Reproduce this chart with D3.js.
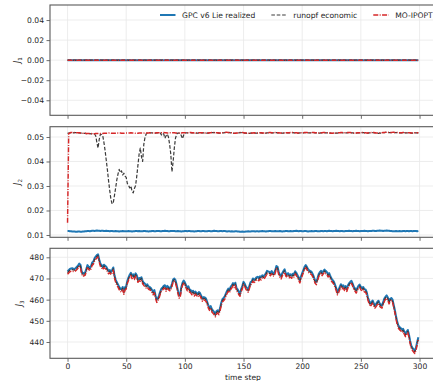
<!DOCTYPE html>
<html>
<head>
<meta charset="utf-8">
<script src="https://cdn.jsdelivr.net/npm/d3@7"></script>
<style>
  html, body { margin: 0; padding: 0; background: #fff; }
  svg { display: block; font-family: "DejaVu Sans", sans-serif; }
</style>
</head>
<body>
<svg id="chart" width="433" height="381"></svg>
<script>
// ---- data -------------------------------------------------------------
const timeSteps = d3.range(300);

const seriesNames = ["GPC v6 Lie realized", "runopf economic", "MO-IPOPT"];

// J1 is identically zero for all three methods
const j1Zero = [
0,0,0,0,0,0,0,0,0,0, 0,0,0,0,0,0,0,0,0,0, 0,0,0,0,0,0,0,0,0,0,
0,0,0,0,0,0,0,0,0,0, 0,0,0,0,0,0,0,0,0,0, 0,0,0,0,0,0,0,0,0,0,
0,0,0,0,0,0,0,0,0,0, 0,0,0,0,0,0,0,0,0,0, 0,0,0,0,0,0,0,0,0,0,
0,0,0,0,0,0,0,0,0,0, 0,0,0,0,0,0,0,0,0,0, 0,0,0,0,0,0,0,0,0,0,
0,0,0,0,0,0,0,0,0,0, 0,0,0,0,0,0,0,0,0,0, 0,0,0,0,0,0,0,0,0,0,
0,0,0,0,0,0,0,0,0,0, 0,0,0,0,0,0,0,0,0,0, 0,0,0,0,0,0,0,0,0,0,
0,0,0,0,0,0,0,0,0,0, 0,0,0,0,0,0,0,0,0,0, 0,0,0,0,0,0,0,0,0,0,
0,0,0,0,0,0,0,0,0,0, 0,0,0,0,0,0,0,0,0,0, 0,0,0,0,0,0,0,0,0,0,
0,0,0,0,0,0,0,0,0,0, 0,0,0,0,0,0,0,0,0,0, 0,0,0,0,0,0,0,0,0,0,
0,0,0,0,0,0,0,0,0,0, 0,0,0,0,0,0,0,0,0,0, 0,0,0,0,0,0,0,0,0,0
];

const j2Gpc = [
0.0116,0.0116,0.0115,0.0115,0.0114,0.0114,0.0114,0.0113,0.0113,0.0114,
0.0114,0.0113,0.0113,0.0114,0.0114,0.0115,0.0115,0.0116,0.0116,0.0115,
0.0116,0.0117,0.0117,0.0116,0.0117,0.0118,0.0117,0.0117,0.0116,0.0117,
0.0117,0.0116,0.0116,0.0117,0.0116,0.0116,0.0115,0.0116,0.0116,0.0115,
0.0115,0.0116,0.0115,0.0115,0.0114,0.0115,0.0115,0.0116,0.0115,0.0115,
0.0115,0.0115,0.0116,0.0115,0.0115,0.0114,0.0115,0.0115,0.0116,0.0116,
0.0115,0.0116,0.0115,0.0115,0.0115,0.0116,0.0116,0.0115,0.0115,0.0114,
0.0115,0.0115,0.0116,0.0116,0.0115,0.0115,0.0116,0.0116,0.0116,0.0115,
0.0115,0.0116,0.0116,0.0117,0.0116,0.0116,0.0115,0.0115,0.0116,0.0116,
0.0116,0.0116,0.0115,0.0115,0.0116,0.0115,0.0115,0.0114,0.0115,0.0115,
0.0116,0.0116,0.0115,0.0116,0.0116,0.0115,0.0115,0.0115,0.0114,0.0115,
0.0115,0.0116,0.0116,0.0115,0.0115,0.0116,0.0116,0.0115,0.0115,0.0115,
0.0116,0.0116,0.0115,0.0115,0.0116,0.0117,0.0116,0.0116,0.0115,0.0115,
0.0116,0.0116,0.0115,0.0116,0.0116,0.0115,0.0114,0.0115,0.0115,0.0114,
0.0115,0.0114,0.0114,0.0115,0.0115,0.0114,0.0114,0.0113,0.0113,0.0114,
0.0113,0.0113,0.0114,0.0114,0.0115,0.0114,0.0114,0.0115,0.0115,0.0115,
0.0114,0.0115,0.0115,0.0114,0.0115,0.0115,0.0116,0.0115,0.0115,0.0114,
0.0115,0.0115,0.0116,0.0116,0.0115,0.0115,0.0115,0.0116,0.0115,0.0115,
0.0115,0.0116,0.0115,0.0114,0.0115,0.0115,0.0116,0.0116,0.0115,0.0115,
0.0116,0.0115,0.0115,0.0116,0.0116,0.0117,0.0116,0.0115,0.0116,0.0116,
0.0115,0.0115,0.0116,0.0116,0.0115,0.0114,0.0115,0.0115,0.0116,0.0115,
0.0115,0.0116,0.0116,0.0115,0.0115,0.0115,0.0116,0.0116,0.0115,0.0116,
0.0116,0.0115,0.0116,0.0117,0.0116,0.0116,0.0115,0.0116,0.0116,0.0117,
0.0116,0.0116,0.0115,0.0116,0.0116,0.0115,0.0115,0.0116,0.0116,0.0116,
0.0117,0.0116,0.0116,0.0115,0.0116,0.0116,0.0117,0.0116,0.0116,0.0115,
0.0116,0.0116,0.0116,0.0117,0.0116,0.0116,0.0115,0.0116,0.0116,0.0116,
0.0117,0.0117,0.0116,0.0116,0.0117,0.0117,0.0118,0.0117,0.0117,0.0116,
0.0117,0.0117,0.0118,0.0117,0.0117,0.0116,0.0116,0.0115,0.0115,0.0115,
0.0116,0.0115,0.0115,0.0116,0.0115,0.0115,0.0116,0.0116,0.0115,0.0116,
0.0116,0.0115,0.0116,0.0116,0.0115,0.0116,0.0116,0.0116,0.0115,0.0116
];

const j2Runopf = [
0.0515,0.0516,0.0517,0.0518,0.0518,0.0517,0.0518,0.0518,0.0517,0.0517,
0.0517,0.0516,0.0516,0.0515,0.0515,0.0515,0.0514,0.0514,0.0514,0.0514,
0.0513,0.0514,0.0513,0.0512,0.0505,0.0478,0.0455,0.0490,0.0512,0.0510,
0.0505,0.0478,0.0445,0.0405,0.0365,0.0320,0.0280,0.0245,0.0227,0.0232,
0.0262,0.0292,0.0325,0.0348,0.0368,0.0355,0.0362,0.0345,0.0352,0.0340,
0.0335,0.0310,0.0302,0.0292,0.0300,0.0278,0.0272,0.0290,0.0302,0.0340,
0.0385,0.0430,0.0455,0.0420,0.0400,0.0470,0.0498,0.0512,0.0516,0.0516,
0.0517,0.0517,0.0517,0.0516,0.0516,0.0516,0.0517,0.0517,0.0517,0.0517,
0.0508,0.0516,0.0512,0.0495,0.0505,0.0512,0.0500,0.0470,0.0430,0.0358,
0.0400,0.0455,0.0495,0.0512,0.0516,0.0516,0.0516,0.0505,0.0493,0.0508,
0.0517,0.0517,0.0517,0.0517,0.0518,0.0518,0.0517,0.0517,0.0516,0.0516,
0.0516,0.0516,0.0517,0.0517,0.0517,0.0517,0.0517,0.0516,0.0516,0.0516,
0.0516,0.0517,0.0517,0.0518,0.0518,0.0518,0.0518,0.0517,0.0517,0.0516,
0.0516,0.0516,0.0517,0.0517,0.0518,0.0519,0.0519,0.0518,0.0518,0.0517,
0.0517,0.0516,0.0515,0.0515,0.0516,0.0516,0.0517,0.0518,0.0518,0.0518,
0.0517,0.0516,0.0516,0.0515,0.0515,0.0515,0.0516,0.0516,0.0516,0.0517,
0.0516,0.0516,0.0516,0.0517,0.0517,0.0517,0.0516,0.0516,0.0516,0.0516,
0.0517,0.0517,0.0518,0.0518,0.0517,0.0517,0.0517,0.0518,0.0518,0.0517,
0.0517,0.0516,0.0516,0.0516,0.0516,0.0517,0.0517,0.0517,0.0517,0.0517,
0.0518,0.0518,0.0518,0.0517,0.0517,0.0517,0.0516,0.0516,0.0517,0.0517,
0.0517,0.0517,0.0518,0.0518,0.0518,0.0517,0.0517,0.0517,0.0518,0.0518,
0.0518,0.0517,0.0517,0.0516,0.0516,0.0516,0.0517,0.0517,0.0518,0.0518,
0.0517,0.0517,0.0517,0.0516,0.0516,0.0515,0.0515,0.0516,0.0516,0.0516,
0.0516,0.0517,0.0517,0.0518,0.0518,0.0517,0.0517,0.0517,0.0517,0.0518,
0.0518,0.0518,0.0517,0.0517,0.0516,0.0516,0.0516,0.0517,0.0517,0.0517,
0.0518,0.0518,0.0518,0.0517,0.0517,0.0516,0.0516,0.0517,0.0517,0.0518,
0.0518,0.0518,0.0517,0.0516,0.0516,0.0515,0.0516,0.0516,0.0517,0.0518,
0.0518,0.0519,0.0519,0.0519,0.0518,0.0518,0.0518,0.0519,0.0519,0.0518,
0.0518,0.0518,0.0518,0.0517,0.0517,0.0517,0.0518,0.0518,0.0517,0.0517,
0.0517,0.0517,0.0517,0.0516,0.0516,0.0516,0.0517,0.0517,0.0517,0.0517
];

const j2Mo = [
0.0150,0.0514,0.0517,0.0518,0.0518,0.0517,0.0518,0.0518,0.0517,0.0517,
0.0517,0.0516,0.0516,0.0515,0.0515,0.0515,0.0514,0.0514,0.0514,0.0514,
0.0513,0.0514,0.0513,0.0513,0.0514,0.0514,0.0514,0.0513,0.0514,0.0514,
0.0514,0.0515,0.0515,0.0515,0.0515,0.0516,0.0516,0.0515,0.0515,0.0515,
0.0515,0.0515,0.0515,0.0516,0.0516,0.0516,0.0515,0.0515,0.0515,0.0516,
0.0516,0.0516,0.0516,0.0516,0.0517,0.0516,0.0516,0.0516,0.0515,0.0515,
0.0515,0.0516,0.0516,0.0516,0.0516,0.0516,0.0517,0.0516,0.0516,0.0516,
0.0517,0.0517,0.0517,0.0516,0.0516,0.0516,0.0517,0.0517,0.0517,0.0517,
0.0517,0.0517,0.0518,0.0517,0.0517,0.0516,0.0516,0.0517,0.0517,0.0517,
0.0517,0.0517,0.0516,0.0516,0.0516,0.0516,0.0516,0.0516,0.0517,0.0517,
0.0517,0.0517,0.0517,0.0517,0.0518,0.0518,0.0517,0.0517,0.0516,0.0516,
0.0516,0.0516,0.0517,0.0517,0.0517,0.0517,0.0517,0.0516,0.0516,0.0516,
0.0516,0.0517,0.0517,0.0518,0.0518,0.0518,0.0518,0.0517,0.0517,0.0516,
0.0516,0.0516,0.0517,0.0517,0.0518,0.0519,0.0519,0.0518,0.0518,0.0517,
0.0517,0.0516,0.0515,0.0515,0.0516,0.0516,0.0517,0.0518,0.0518,0.0518,
0.0517,0.0516,0.0516,0.0515,0.0515,0.0515,0.0516,0.0516,0.0516,0.0517,
0.0516,0.0516,0.0516,0.0517,0.0517,0.0517,0.0516,0.0516,0.0516,0.0516,
0.0517,0.0517,0.0518,0.0518,0.0517,0.0517,0.0517,0.0518,0.0518,0.0517,
0.0517,0.0516,0.0516,0.0516,0.0516,0.0517,0.0517,0.0517,0.0517,0.0517,
0.0518,0.0518,0.0518,0.0517,0.0517,0.0517,0.0516,0.0516,0.0517,0.0517,
0.0517,0.0517,0.0518,0.0518,0.0518,0.0517,0.0517,0.0517,0.0518,0.0518,
0.0518,0.0517,0.0517,0.0516,0.0516,0.0516,0.0517,0.0517,0.0518,0.0518,
0.0517,0.0517,0.0517,0.0516,0.0516,0.0515,0.0515,0.0516,0.0516,0.0516,
0.0516,0.0517,0.0517,0.0518,0.0518,0.0517,0.0517,0.0517,0.0517,0.0518,
0.0518,0.0518,0.0517,0.0517,0.0516,0.0516,0.0516,0.0517,0.0517,0.0517,
0.0518,0.0518,0.0518,0.0517,0.0517,0.0516,0.0516,0.0517,0.0517,0.0518,
0.0518,0.0518,0.0517,0.0516,0.0516,0.0515,0.0516,0.0516,0.0517,0.0518,
0.0518,0.0519,0.0519,0.0519,0.0518,0.0518,0.0518,0.0519,0.0519,0.0518,
0.0518,0.0518,0.0518,0.0517,0.0517,0.0517,0.0518,0.0518,0.0517,0.0517,
0.0517,0.0517,0.0517,0.0516,0.0516,0.0516,0.0517,0.0517,0.0517,0.0517
];

const j3Gpc = [
473.3,473.9,474.5,474.7,474.8,474.6,474.5,475.0,475.5,476.2,
477.0,476.5,473.5,472.3,472.6,472.8,474.5,476.3,475.5,475.0,
475.8,477.5,478.0,479.5,480.3,481.0,481.4,479.0,477.0,476.3,
475.5,476.5,476.0,475.5,474.5,473.5,474.0,473.1,474.0,475.2,
471.5,469.5,468.2,467.2,466.0,465.2,464.8,466.0,463.8,465.8,
466.3,468.9,470.5,471.8,472.7,471.2,472.0,470.8,472.4,471.5,
469.5,470.2,470.0,470.6,468.8,468.0,467.5,466.8,467.2,466.2,
466.0,465.5,464.6,463.6,464.5,462.0,460.0,460.6,462.0,463.8,
465.2,465.8,466.5,466.8,465.3,466.5,466.0,465.5,465.7,467.5,
469.5,470.0,469.2,467.0,464.5,462.0,462.4,466.0,468.0,469.0,
468.2,466.8,465.5,466.3,464.8,464.5,463.6,464.2,463.0,463.8,
463.2,462.5,463.6,463.0,461.8,460.5,461.2,461.0,460.5,459.0,
457.3,456.2,457.0,455.5,454.8,454.1,453.2,454.6,455.0,454.2,
456.0,458.5,460.2,460.8,461.5,463.0,464.2,465.2,464.5,466.0,
466.8,467.8,467.0,468.0,465.5,464.8,463.6,462.9,465.0,466.5,
468.4,467.5,466.2,465.5,464.8,466.5,468.3,468.6,470.0,469.4,
469.8,470.5,470.8,470.2,471.0,470.6,471.5,471.1,471.5,472.4,
473.6,473.3,473.1,472.6,473.5,472.4,472.4,473.8,475.9,475.5,
473.0,471.8,471.1,472.5,473.5,474.3,472.5,471.8,472.5,471.6,
472.0,471.4,472.2,472.0,473.4,472.7,471.5,470.5,469.2,471.0,
472.5,474.0,475.5,476.3,475.5,474.4,473.8,473.5,473.1,472.0,
470.6,469.0,468.4,470.0,472.0,473.0,473.6,472.6,473.5,474.2,
473.6,473.1,472.0,472.5,471.0,470.0,469.2,468.5,467.0,465.5,
463.6,464.5,466.0,467.3,466.4,466.8,465.6,466.4,465.2,466.8,
467.8,468.4,468.9,467.6,466.0,465.3,464.4,465.5,466.6,467.1,
466.0,465.3,466.0,464.9,464.8,463.5,461.0,459.5,458.1,458.8,
459.6,458.3,457.3,458.0,458.9,459.5,458.2,457.6,457.3,458.8,
460.5,461.4,462.0,461.0,459.3,460.4,460.8,460.0,457.5,455.0,
452.0,449.5,447.8,447.0,446.6,445.8,446.2,445.0,443.8,444.8,
445.7,443.5,440.5,438.2,437.3,436.5,435.9,437.4,440.0,442.2
];

const j3Runopf = [
472.7,473.3,473.9,474.1,474.2,474.0,473.9,474.4,474.9,475.6,
476.4,475.9,472.9,471.7,472.0,472.2,473.9,475.7,474.9,474.4,
475.2,476.9,477.4,478.9,479.7,480.4,480.8,478.4,476.4,475.7,
474.9,475.9,475.4,474.9,473.9,472.9,473.4,472.5,473.4,474.6,
470.9,468.9,467.6,466.6,465.4,464.6,464.2,465.4,463.2,465.2,
465.7,468.3,469.9,471.2,472.1,470.6,471.4,470.2,471.8,470.9,
468.9,469.6,469.4,470.0,468.2,467.4,466.9,466.2,466.6,465.6,
465.4,464.9,464.0,463.0,463.9,461.4,459.4,460.0,461.4,463.2,
464.6,465.2,465.9,466.2,464.7,465.9,465.4,464.9,465.1,466.9,
468.9,469.4,468.6,466.4,463.9,461.4,461.8,465.4,467.4,468.4,
467.6,466.2,464.9,465.7,464.2,463.9,463.0,463.6,462.4,463.2,
462.6,461.9,463.0,462.4,461.2,459.9,460.6,460.4,459.9,458.4,
456.7,455.6,456.4,454.9,454.2,453.5,452.6,454.0,454.4,453.6,
455.4,457.9,459.6,460.2,460.9,462.4,463.6,464.6,463.9,465.4,
466.2,467.2,466.4,467.4,464.9,464.2,463.0,462.3,464.4,465.9,
467.8,466.9,465.6,464.9,464.2,465.9,467.7,468.0,469.4,468.8,
469.2,469.9,470.2,469.6,470.4,470.0,470.9,470.5,470.9,471.8,
473.0,472.7,472.5,472.0,472.9,471.8,471.8,473.2,475.3,474.9,
472.4,471.2,470.5,471.9,472.9,473.7,471.9,471.2,471.9,471.0,
471.4,470.8,471.6,471.4,472.8,472.1,470.9,469.9,468.6,470.4,
471.9,473.4,474.9,475.7,474.9,473.8,473.2,472.9,472.5,471.4,
470.0,468.4,467.8,469.4,471.4,472.4,473.0,472.0,472.9,473.6,
473.0,472.5,471.4,471.9,470.4,469.4,468.6,467.9,466.4,464.9,
463.0,463.9,465.4,466.7,465.8,466.2,465.0,465.8,464.6,466.2,
467.2,467.8,468.3,467.0,465.4,464.7,463.8,464.9,466.0,466.5,
465.4,464.7,465.4,464.3,464.2,462.9,460.4,458.9,457.5,458.2,
459.0,457.7,456.7,457.4,458.3,458.9,457.6,457.0,456.7,458.2,
459.9,460.8,461.4,460.4,458.7,459.8,460.2,459.4,456.9,454.4,
451.4,448.9,447.2,446.4,446.0,445.2,445.6,444.4,443.2,444.2,
445.1,442.9,439.9,437.6,436.7,435.9,435.3,436.8,439.4,441.6
];

const j3Mo = [
472.0,472.6,473.2,473.4,473.5,473.3,473.2,473.7,474.2,474.9,
475.7,475.2,472.2,471.0,471.3,471.5,473.2,475.0,474.2,473.7,
474.5,476.2,476.7,478.2,479.0,479.7,480.1,477.7,475.7,475.0,
474.2,475.2,474.7,474.2,473.2,472.2,472.7,471.8,472.7,473.9,
470.2,468.2,466.9,465.9,464.7,463.9,463.5,464.7,462.5,464.5,
465.0,467.6,469.2,470.5,471.4,469.9,470.7,469.5,471.1,470.2,
468.2,468.9,468.7,469.3,467.5,466.7,466.2,465.5,465.9,464.9,
464.7,464.2,463.3,462.3,463.2,460.7,458.7,459.3,460.7,462.5,
463.9,464.5,465.2,465.5,464.0,465.2,464.7,464.2,464.4,466.2,
468.2,468.7,467.9,465.7,463.2,460.7,461.1,464.7,466.7,467.7,
466.9,465.5,464.2,465.0,463.5,463.2,462.3,462.9,461.7,462.5,
461.9,461.2,462.3,461.7,460.5,459.2,459.9,459.7,459.2,457.7,
456.0,454.9,455.7,454.2,453.5,452.8,451.9,453.3,453.7,452.9,
454.7,457.2,458.9,459.5,460.2,461.7,462.9,463.9,463.2,464.7,
465.5,466.5,465.7,466.7,464.2,463.5,462.3,461.6,463.7,465.2,
467.1,466.2,464.9,464.2,463.5,465.2,467.0,467.3,468.7,468.1,
468.5,469.2,469.5,468.9,469.7,469.3,470.2,469.8,470.2,471.1,
472.3,472.0,471.8,471.3,472.2,471.1,471.1,472.5,474.6,474.2,
471.7,470.5,469.8,471.2,472.2,473.0,471.2,470.5,471.2,470.3,
470.7,470.1,470.9,470.7,472.1,471.4,470.2,469.2,467.9,469.7,
471.2,472.7,474.2,475.0,474.2,473.1,472.5,472.2,471.8,470.7,
469.3,467.7,467.1,468.7,470.7,471.7,472.3,471.3,472.2,472.9,
472.3,471.8,470.7,471.2,469.7,468.7,467.9,467.2,465.7,464.2,
462.3,463.2,464.7,466.0,465.1,465.5,464.3,465.1,463.9,465.5,
466.5,467.1,467.6,466.3,464.7,464.0,463.1,464.2,465.3,465.8,
464.7,464.0,464.7,463.6,463.5,462.2,459.7,458.2,456.8,457.5,
458.3,457.0,456.0,456.7,457.6,458.2,456.9,456.3,456.0,457.5,
459.2,460.1,460.7,459.7,458.0,459.1,459.5,458.7,456.2,453.7,
450.7,448.2,446.5,445.7,445.3,444.5,444.9,443.7,442.5,443.5,
444.4,442.2,439.2,436.9,436.0,435.2,434.6,436.1,438.7,440.9
];

const xTicks = [0, 50, 100, 150, 200, 250, 300];
const j1Ticks = [-0.04, -0.02, 0.00, 0.02, 0.04];
const j2Ticks = [0.01, 0.02, 0.03, 0.04, 0.05];
const j3Ticks = [440, 450, 460, 470, 480];

// ---- layout & styles --------------------------------------------------
const svg = d3.select("#chart");
const FONT = 7.6;
const GRID = "#e8e8e8";
const SPINE = "#5a5a5a";
const TEXT = "#262626";

const seriesStyle = [
  { color: "#1f77b4", width: 2.0, dash: null },
  { color: "#3a3a3a", width: 1.2, dash: "3.6,1.8" },
  { color: "#d62728", width: 1.45, dash: "5,1.4,1,1.4" }
];

const x = d3.scaleLinear().domain([-14.95, 313.95]).range([50, 435.9]);

const panels = [
  { top: 5,     bottom: 115.3, domain: [-0.055, 0.055],  ticks: j1Ticks, fmt: d3.format(".2f"),
    series: [j1Zero, j1Zero, j1Zero], label: "1", labelX: 20, showX: false },
  { top: 126.7, bottom: 237.3, domain: [0.00906, 0.0542], ticks: j2Ticks, fmt: d3.format(".2f"),
    series: [j2Gpc, j2Runopf, j2Mo], label: "2", labelX: 20, showX: false },
  { top: 248.3, bottom: 358.3, domain: [432.3, 484.25],   ticks: j3Ticks, fmt: d3.format("d"),
    series: [j3Gpc, j3Runopf, j3Mo], label: "3", labelX: 22, showX: true }
];

panels.forEach(p => {
  const y = d3.scaleLinear().domain(p.domain).range([p.bottom, p.top]);
  const g = svg.append("g");

  // grid
  g.append("g").selectAll("line.vx").data(xTicks).join("line")
    .attr("x1", d => x(d)).attr("x2", d => x(d))
    .attr("y1", p.top).attr("y2", p.bottom)
    .attr("stroke", GRID).attr("stroke-width", 0.8);
  g.append("g").selectAll("line.hy").data(p.ticks).join("line")
    .attr("x1", x.range()[0]).attr("x2", x.range()[1])
    .attr("y1", d => y(d)).attr("y2", d => y(d))
    .attr("stroke", GRID).attr("stroke-width", 0.8);

  // series lines
  p.series.forEach((vals, i) => {
    const st = seriesStyle[i];
    const line = d3.line().x((d, k) => x(timeSteps[k])).y(d => y(d));
    g.append("path").datum(vals)
      .attr("d", line)
      .attr("fill", "none")
      .attr("stroke", st.color)
      .attr("stroke-width", st.width)
      .attr("stroke-dasharray", st.dash)
      .attr("stroke-linejoin", "round");
  });

  // frame
  g.append("rect")
    .attr("x", x.range()[0]).attr("y", p.top)
    .attr("width", x.range()[1] - x.range()[0]).attr("height", p.bottom - p.top)
    .attr("fill", "none").attr("stroke", SPINE).attr("stroke-width", 1.1);

  // axes
  const ya = g.append("g").attr("transform", `translate(${x.range()[0]},0)`)
    .call(d3.axisLeft(y).tickValues(p.ticks).tickFormat(p.fmt).tickSize(3.5).tickPadding(2.5));
  const xa = g.append("g").attr("transform", `translate(0,${p.bottom})`)
    .call(d3.axisBottom(x).tickValues(xTicks).tickSize(3.5).tickPadding(2.2)
      .tickFormat(p.showX ? d3.format("d") : ""));
  [ya, xa].forEach(a => {
    a.select(".domain").remove();
    a.selectAll(".tick line").attr("stroke", SPINE).attr("stroke-width", 0.9);
    a.selectAll(".tick text").attr("fill", TEXT)
      .style("font-size", FONT + "px").style("font-family", "DejaVu Sans");
  });

  // y label J_n
  const cy = (p.top + p.bottom) / 2;
  const lab = g.append("text")
    .attr("transform", `translate(${p.labelX},${cy}) rotate(-90)`)
    .attr("text-anchor", "middle")
    .attr("fill", TEXT)
    .style("font-size", "8px");
  lab.append("tspan").style("font-style", "italic").text("J");
  lab.append("tspan").attr("dy", 1.8).style("font-size", "5.6px").text(p.label);
});

// x label
svg.append("text")
  .attr("x", (x.range()[0] + x.range()[1]) / 2).attr("y", 380)
  .attr("text-anchor", "middle").attr("fill", TEXT)
  .style("font-size", FONT + "px").text("time step");

// legend
const leg = svg.append("g");
let lx = 160;
const ly = 15;
seriesNames.forEach((name, i) => {
  const st = seriesStyle[i];
  leg.append("line")
    .attr("x1", lx).attr("x2", lx + 15.5).attr("y1", ly).attr("y2", ly)
    .attr("stroke", st.color).attr("stroke-width", st.width)
    .attr("stroke-dasharray", st.dash);
  const t = leg.append("text")
    .attr("x", lx + 22).attr("y", ly + 2.7)
    .attr("fill", TEXT).style("font-size", FONT + "px").text(name);
  lx += 22 + t.node().getComputedTextLength() + 16;
});
</script>
</body>
</html>
